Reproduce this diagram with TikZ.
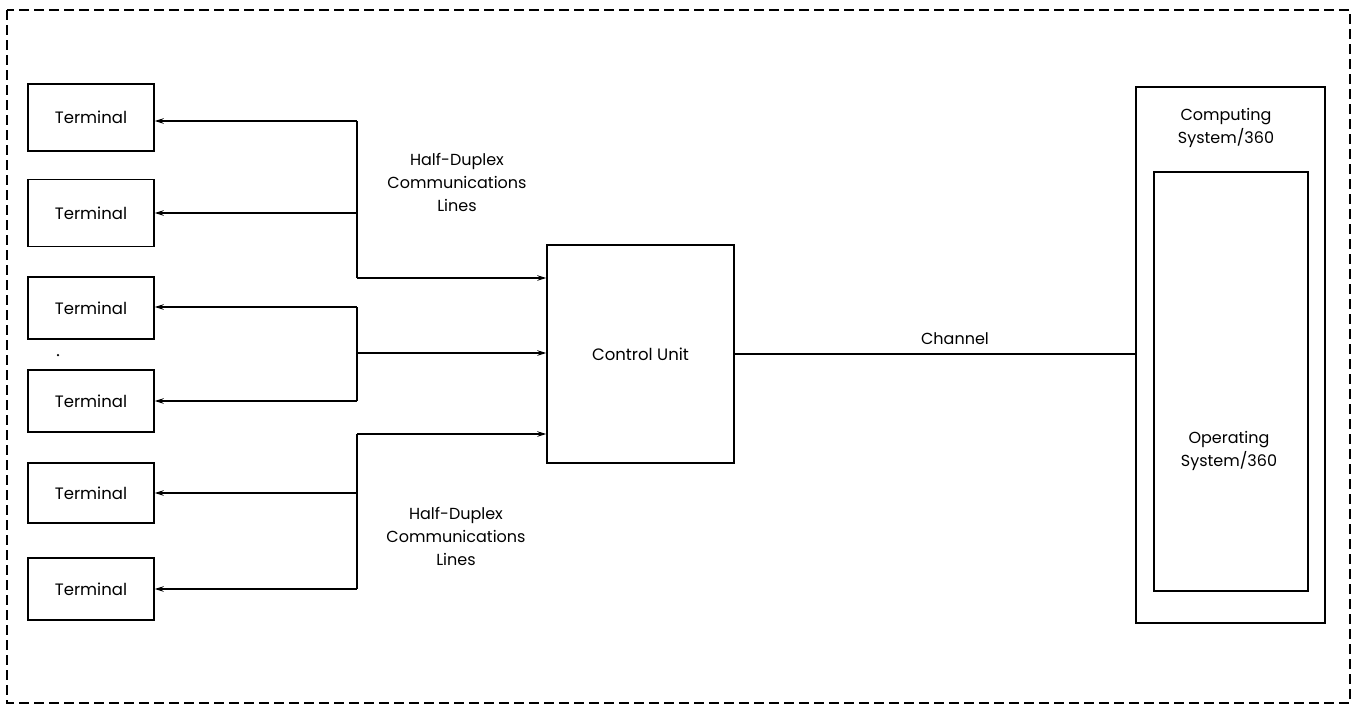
\documentclass[tikz,border=0pt]{standalone}
\usepackage{fontspec}
\setmainfont{Poppins}
\usetikzlibrary{arrows.meta}
\begin{document}
\begin{tikzpicture}[x=1pt,y=-1pt,
  box/.style={draw,line width=1.5pt,inner sep=0pt,font=\fontsize{16.5}{19}\selectfont},
  lbl/.style={font=\fontsize{16}{23}\selectfont,align=center,inner sep=0pt},
  wire/.style={line width=1.1pt},
  arr/.style={wire,-{Stealth[length=9pt,width=5.5pt]}}]
\useasboundingbox (0,0) rectangle (1353,707);
\draw[line width=1.4pt,dash pattern=on 10pt off 5pt] (7,10) rectangle (1350,703);
% terminals
\node[box,minimum width=126pt,minimum height=67pt] (t1) at (91,117.5) {Terminal};
\node[box,minimum width=126pt,minimum height=67pt] (t2) at (91,213) {Terminal};
\node[box,minimum width=126pt,minimum height=62pt] (t3) at (91,308) {Terminal};
\node[box,minimum width=126pt,minimum height=62pt] (t4) at (91,401) {Terminal};
\node[box,minimum width=126pt,minimum height=60pt] (t5) at (91,493) {Terminal};
\node[box,minimum width=126pt,minimum height=62pt] (t6) at (91,589) {Terminal};
\node[inner sep=0pt,circle,fill,minimum size=2.5pt] (dot) at (58,355) {};
% control unit
\node[box,minimum width=187pt,minimum height=218pt] (cu) at (640.5,354) {Control Unit};
% computing system
\node[box,minimum width=189pt,minimum height=536pt] (cs) at (1230.5,355) {};
\node[box,line width=1.2pt,minimum width=154pt,minimum height=419pt] (os) at (1231,381.5) {};
\node[lbl] (cstxt) at (1226,128) {Computing\\System/360};
\node[lbl] (ostxt) at (1229,451) {Operating\\System/360};
% junction coordinates
\coordinate (j1) at (357,121);
\coordinate (j1b) at (357,278);
\coordinate (j2a) at (357,307);
\coordinate (j2b) at (357,401);
\coordinate (j2m) at (357,353);
\coordinate (j3a) at (357,434);
\coordinate (j3b) at (357,589);
% group 1
\draw[arr] (j1) -- (j1 -| t1.east);
\draw[arr] (357,213) -- (t2.east);
\draw[wire] (j1) -- (j1b);
\draw[arr] (j1b) -- (j1b -| cu.west);
% group 2
\draw[arr] (j2a) -- (j2a -| t3.east);
\draw[arr] (j2b) -- (j2b -| t4.east);
\draw[wire] (j2a) -- (j2b);
\draw[arr] (j2m) -- (j2m -| cu.west);
% group 3
\draw[wire] (j3a) -- (j3b);
\draw[arr] (j3a) -- (j3a -| cu.west);
\draw[arr] (357,493) -- (t5.east);
\draw[arr] (j3b) -- (t6.east);
% labels
\node[lbl] (hd1) at (457,182) {Half-Duplex\\Communications\\Lines};
\node[lbl] (hd2) at (456,536) {Half-Duplex\\Communications\\Lines};
% channel
\draw[wire] (cu.east |- 0,354) coordinate (ch0) -- (cs.west |- ch0);
\node[lbl] (chl) at (955,339) {Channel};
\end{tikzpicture}
\end{document}
